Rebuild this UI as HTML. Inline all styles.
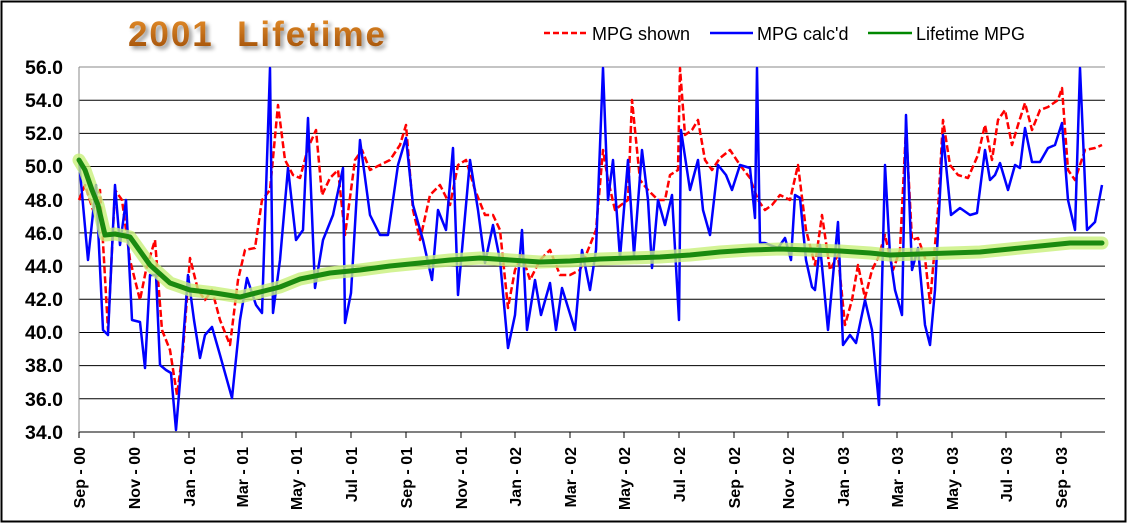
<!DOCTYPE html>
<html><head><meta charset="utf-8"><style>
body{margin:0;background:#fff}
svg{display:block}
</style></head><body>
<svg width="1128" height="524" viewBox="0 0 1128 524" xmlns="http://www.w3.org/2000/svg">
<defs>
<linearGradient id="tg" x1="0" y1="0" x2="0" y2="1"><stop offset="0" stop-color="#e8902a"/><stop offset="1" stop-color="#9a4a08"/></linearGradient>
<filter id="sh" x="-10%" y="-10%" width="130%" height="140%"><feGaussianBlur in="SourceAlpha" stdDeviation="2"/><feOffset dx="3" dy="3"/><feComponentTransfer><feFuncA type="linear" slope="0.4"/></feComponentTransfer><feMerge><feMergeNode/><feMergeNode in="SourceGraphic"/></feMerge></filter>
</defs>
<rect x="1.5" y="1.5" width="1124" height="520" fill="#fff" stroke="#000" stroke-width="2"/>
<text x="128" y="46" font-family="Liberation Sans, sans-serif" font-weight="bold" font-size="35" fill="url(#tg)" filter="url(#sh)" textLength="257" lengthAdjust="spacing" xml:space="preserve">2001  Lifetime</text>
<g font-family="Liberation Sans, sans-serif" font-size="18" fill="#000">
<line x1="544" y1="33" x2="588" y2="33" stroke="#f00" stroke-width="2.5" stroke-dasharray="6,3"/>
<text x="592" y="40">MPG shown</text>
<line x1="710" y1="33" x2="753" y2="33" stroke="#00f" stroke-width="2.5"/>
<text x="757" y="40">MPG calc'd</text>
<line x1="868" y1="33" x2="912" y2="33" stroke="#080" stroke-width="2.5"/>
<text x="916" y="40">Lifetime MPG</text>
</g>
<g stroke="#000" stroke-width="1">
<line x1="79" y1="67" x2="1105" y2="67" stroke="#888"/>
<line x1="79" y1="100.2" x2="1105" y2="100.2"/><line x1="79" y1="133.4" x2="1105" y2="133.4"/>
<line x1="79" y1="166.5" x2="1105" y2="166.5"/><line x1="79" y1="199.7" x2="1105" y2="199.7"/>
<line x1="79" y1="232.9" x2="1105" y2="232.9"/><line x1="79" y1="266.1" x2="1105" y2="266.1"/>
<line x1="79" y1="299.3" x2="1105" y2="299.3"/><line x1="79" y1="332.5" x2="1105" y2="332.5"/>
<line x1="79" y1="365.6" x2="1105" y2="365.6"/><line x1="79" y1="398.8" x2="1105" y2="398.8"/>
<line x1="79" y1="432" x2="1105" y2="432"/>
<line x1="79" y1="67" x2="79" y2="432" stroke="#888"/>
</g>
<g font-family="Liberation Sans, sans-serif" font-weight="bold" font-size="19.5" text-anchor="end">
<text x="63" y="74">56.0</text><text x="63" y="107">54.0</text><text x="63" y="140">52.0</text>
<text x="63" y="173">50.0</text><text x="63" y="207">48.0</text><text x="63" y="240">46.0</text>
<text x="63" y="273">44.0</text><text x="63" y="306">42.0</text><text x="63" y="339">40.0</text>
<text x="63" y="372">38.0</text><text x="63" y="406">36.0</text><text x="63" y="439">34.0</text>
</g>
<g font-family="Liberation Sans, sans-serif" font-weight="bold" font-size="16" text-anchor="end" stroke="#000">
<g stroke-width="1">
<line x1="79" y1="432" x2="79" y2="438"/><line x1="134" y1="432" x2="134" y2="438"/><line x1="189" y1="432" x2="189" y2="438"/><line x1="242" y1="432" x2="242" y2="438"/><line x1="296" y1="432" x2="296" y2="438"/><line x1="351" y1="432" x2="351" y2="438"/><line x1="406" y1="432" x2="406" y2="438"/><line x1="461" y1="432" x2="461" y2="438"/><line x1="515" y1="432" x2="515" y2="438"/><line x1="570" y1="432" x2="570" y2="438"/><line x1="624" y1="432" x2="624" y2="438"/><line x1="679" y1="432" x2="679" y2="438"/><line x1="734" y1="432" x2="734" y2="438"/><line x1="788" y1="432" x2="788" y2="438"/><line x1="843" y1="432" x2="843" y2="438"/><line x1="897" y1="432" x2="897" y2="438"/><line x1="952" y1="432" x2="952" y2="438"/><line x1="1006" y1="432" x2="1006" y2="438"/><line x1="1061" y1="432" x2="1061" y2="438"/>
</g>
<g stroke="none">
<text transform="translate(85,447) rotate(-90)">Sep - 00</text>
<text transform="translate(140,447) rotate(-90)">Nov - 00</text>
<text transform="translate(195,447) rotate(-90)">Jan - 01</text>
<text transform="translate(248,447) rotate(-90)">Mar - 01</text>
<text transform="translate(302,447) rotate(-90)">May - 01</text>
<text transform="translate(357,447) rotate(-90)">Jul - 01</text>
<text transform="translate(412,447) rotate(-90)">Sep - 01</text>
<text transform="translate(467,447) rotate(-90)">Nov - 01</text>
<text transform="translate(521,447) rotate(-90)">Jan - 02</text>
<text transform="translate(576,447) rotate(-90)">Mar - 02</text>
<text transform="translate(630,447) rotate(-90)">May - 02</text>
<text transform="translate(685,447) rotate(-90)">Jul - 02</text>
<text transform="translate(740,447) rotate(-90)">Sep - 02</text>
<text transform="translate(794,447) rotate(-90)">Nov - 02</text>
<text transform="translate(849,447) rotate(-90)">Jan - 03</text>
<text transform="translate(903,447) rotate(-90)">Mar - 03</text>
<text transform="translate(958,447) rotate(-90)">May - 03</text>
<text transform="translate(1012,447) rotate(-90)">Jul - 03</text>
<text transform="translate(1067,447) rotate(-90)">Sep - 03</text>
</g>
</g>
<polyline fill="none" stroke="#f00" stroke-width="2.5" stroke-dasharray="7,3" stroke-linejoin="round" points="79,200 85,185 93,210 100,190 108,330 115,190 122,200 130,260 140,300 146,270 155,240 162,330 170,350 177,395 183,350 190,258 198,290 205,300 212,290 220,320 230,345 238,280 245,250 255,248 262,200 270,190 278,105 285,160 293,175 300,178 308,148 316,130 322,195 330,178 338,170 345,235 355,160 362,150 370,170 380,165 390,160 400,145 406,125 413,210 420,240 430,195 440,185 450,205 458,165 466,160 475,190 485,215 493,215 500,230 508,308 515,270 522,255 530,280 540,260 550,250 560,275 570,275 580,270 590,245 596,230 603,150 608,180 615,210 621,205 628,200 632,100 640,180 648,190 658,200 665,200 670,175 678,170 680,68 685,135 692,130 698,120 705,160 712,170 720,158 730,150 740,165 750,178 758,200 765,210 772,205 780,195 790,200 798,165 806,230 815,265 822,215 830,270 838,255 845,325 852,300 858,265 865,298 872,270 878,258 885,235 893,270 900,250 906,128 912,240 918,238 925,258 930,303 938,210 943,120 950,165 958,175 968,178 978,155 985,125 992,160 998,120 1005,110 1012,145 1018,125 1025,103 1032,130 1040,110 1048,107 1058,100 1062,88 1068,170 1075,180 1085,150 1095,148 1102,145"/>
<polyline fill="none" stroke="#00f" stroke-width="2.5" stroke-linejoin="round" points="79,160 88,260 96,185 103,330 108,335 115,185 120,245 126,200 132,320 140,322 145,368 150,275 156,275 160,365 166,370 171,373 176,430 181,370 188,275 194,320 200,358 205,335 212,327 220,355 232,398 240,320 247,278 256,305 262,313 270,68 273,313 280,260 288,168 296,240 303,230 308,118 315,288 323,240 333,215 343,168 345,323 351,293 360,140 370,215 380,235 388,235 398,165 406,138 413,205 423,240 432,280 438,210 446,230 453,148 458,295 470,160 478,210 485,263 493,225 500,260 508,348 515,315 522,230 527,330 535,280 541,315 550,283 556,330 562,288 575,330 582,250 590,290 596,250 603,68 608,200 613,160 620,258 628,160 634,255 642,150 648,200 652,268 658,200 665,225 672,195 679,320 681,130 690,190 698,160 703,210 710,235 718,165 726,175 732,190 740,165 750,168 755,218 757,68 760,243 765,243 770,245 778,248 785,238 791,260 795,195 800,198 806,260 812,287 815,290 820,245 828,330 838,222 843,345 850,335 856,343 865,300 872,330 879,405 885,165 890,255 895,290 902,315 906,115 912,270 918,248 925,325 930,345 935,290 943,135 951,215 960,208 970,215 977,213 985,150 990,180 995,175 1000,163 1008,190 1015,165 1020,168 1025,128 1032,162 1040,162 1048,148 1055,145 1062,123 1068,200 1075,230 1080,68 1087,230 1095,222 1102,185"/>
<g fill="none" stroke-linejoin="round" stroke-linecap="round">
<polyline stroke="#c8f07a" stroke-opacity="0.8" stroke-width="13" points="79,160 85,170 92,190 98,205 105,235 115,234 130,237 150,265 170,283 190,290 215,293 240,297 260,292 280,287 300,279 330,273 360,270 390,266 420,263 450,260 480,258 510,260 540,262 570,261 600,259 630,258 660,257 690,255 720,252 750,250 780,249 810,250 840,251 870,253 890,255 920,254 950,253 980,252 1010,249 1040,246 1070,243 1102,243"/>
<polyline stroke="#1a8a10" stroke-width="5" points="79,160 85,170 92,190 98,205 105,235 115,234 130,237 150,265 170,283 190,290 215,293 240,297 260,292 280,287 300,279 330,273 360,270 390,266 420,263 450,260 480,258 510,260 540,262 570,261 600,259 630,258 660,257 690,255 720,252 750,250 780,249 810,250 840,251 870,253 890,255 920,254 950,253 980,252 1010,249 1040,246 1070,243 1102,243"/>
</g>
</svg>
</body></html>
